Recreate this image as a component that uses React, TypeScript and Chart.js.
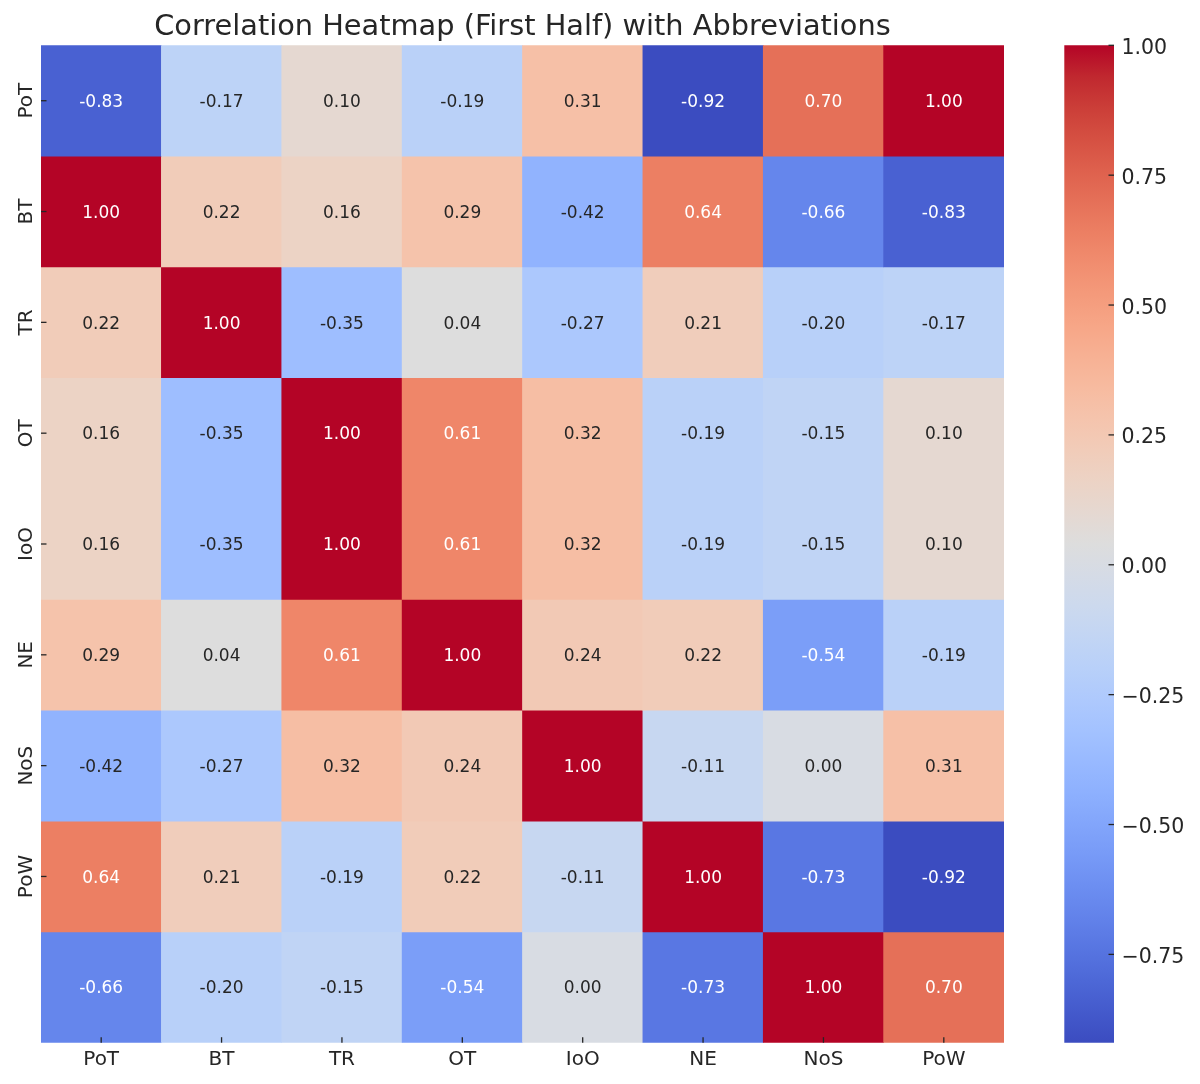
import React, { useEffect, useRef } from 'react';
import { Chart, registerables } from 'chart.js';

Chart.register(...registerables);

// ---------- data ----------
const titleText = 'Correlation Heatmap (First Half) with Abbreviations';
const colLabels = ['PoT', 'BT', 'TR', 'OT', 'IoO', 'NE', 'NoS', 'PoW'];
const rowLabels = ['PoT', 'BT', 'TR', 'OT', 'IoO', 'NE', 'NoS', 'PoW', ''];

const rowPoT = [-0.83, -0.17, 0.1, -0.19, 0.31, -0.92, 0.7, 1.0];
const rowBT = [1.0, 0.22, 0.16, 0.29, -0.42, 0.64, -0.66, -0.83];
const rowTR = [0.22, 1.0, -0.35, 0.04, -0.27, 0.21, -0.2, -0.17];
const rowOT = [0.16, -0.35, 1.0, 0.61, 0.32, -0.19, -0.15, 0.1];
const rowIoO = [0.16, -0.35, 1.0, 0.61, 0.32, -0.19, -0.15, 0.1];
const rowNE = [0.29, 0.04, 0.61, 1.0, 0.24, 0.22, -0.54, -0.19];
const rowNoS = [-0.42, -0.27, 0.32, 0.24, 1.0, -0.11, 0.0, 0.31];
const rowPoW = [0.64, 0.21, -0.19, 0.22, -0.11, 1.0, -0.73, -0.92];
const rowLast = [-0.66, -0.2, -0.15, -0.54, 0.0, -0.73, 1.0, 0.7];

const matrix = [rowPoT, rowBT, rowTR, rowOT, rowIoO, rowNE, rowNoS, rowPoW, rowLast];
const colorbarTicks = [-0.75, -0.5, -0.25, 0, 0.25, 0.5, 0.75, 1.0];

const vmin = Math.min(...matrix.flat());
const vmax = Math.max(...matrix.flat());

// ---------- colormap (coolwarm) ----------
const COOLWARM: number[][] = [
  [59, 76, 192], [68, 90, 204], [77, 104, 215], [87, 117, 225], [98, 130, 234],
  [108, 142, 241], [119, 154, 247], [130, 165, 251], [141, 176, 254], [152, 185, 255],
  [163, 194, 255], [174, 201, 253], [184, 208, 249], [194, 213, 244], [204, 217, 238],
  [213, 219, 230], [221, 221, 221], [229, 216, 209], [236, 211, 197], [241, 204, 185],
  [245, 196, 173], [247, 187, 160], [247, 177, 148], [247, 166, 135], [244, 154, 123],
  [241, 141, 111], [236, 127, 99], [229, 112, 88], [222, 96, 77], [213, 80, 66],
  [203, 62, 56], [192, 40, 47], [180, 4, 38],
];

function cmapRGB(t: number): number[] {
  const tt = Math.max(0, Math.min(1, t)) * (COOLWARM.length - 1);
  const i = Math.min(COOLWARM.length - 2, Math.floor(tt));
  const f = tt - i;
  const a = COOLWARM[i];
  const b = COOLWARM[i + 1];
  return [0, 1, 2].map((k) => a[k] + (b[k] - a[k]) * f);
}
const rgbStr = (c: number[]) => `rgb(${Math.round(c[0])},${Math.round(c[1])},${Math.round(c[2])})`;
const normOf = (v: number) => (v - vmin) / (vmax - vmin);
const colorFor = (v: number) => rgbStr(cmapRGB(normOf(v)));

function luminance(c: number[]): number {
  const lin = c.map((x) => {
    const s = x / 255;
    return s <= 0.03928 ? s / 12.92 : Math.pow((s + 0.055) / 1.055, 2.4);
  });
  return 0.2126 * lin[0] + 0.7152 * lin[1] + 0.0722 * lin[2];
}

const FONT = '"DejaVu Sans", "Liberation Sans", sans-serif';
const TEXT = '#262626';
const ANNOT_SIZE = 17;
const TICK_SIZE = 20;
const CB_SIZE = 20.5;
const textColorFor = (v: number) => (luminance(cmapRGB(normOf(v))) > 0.408 ? TEXT : '#ffffff');
const fmtMinus = (v: number) => (v < 0 ? '\u2212' : '') + Math.abs(v).toFixed(2);

// ---------- plugins ----------
const heatPlugin = {
  id: 'heatAnnot',
  afterDatasetsDraw(chart: any) {
    const ctx = chart.ctx;
    ctx.save();
    ctx.font = `${ANNOT_SIZE}px ${FONT}`;
    ctx.textAlign = 'center';
    ctx.textBaseline = 'alphabetic';
    matrix.forEach((row, i) => {
      const meta = chart.getDatasetMeta(i);
      meta.data.forEach((el: any, j: number) => {
        const p = el.getProps(['x', 'y', 'base'], true);
        const cy = (p.y + p.base) / 2;
        ctx.fillStyle = textColorFor(row[j]);
        ctx.fillText(row[j].toFixed(2), p.x, cy + 0.364 * ANNOT_SIZE);
      });
    });
    ctx.restore();
  },
  afterDraw(chart: any) {
    const { ctx, chartArea: a } = chart;
    const xs = chart.scales.x;
    const ys = chart.scales.y;
    ctx.save();
    ctx.strokeStyle = TEXT;
    ctx.lineWidth = 1.3;
    colLabels.forEach((_, j) => {
      const px = xs.getPixelForValue(j);
      ctx.beginPath();
      ctx.moveTo(px, a.bottom - 5.5);
      ctx.lineTo(px, a.bottom);
      ctx.stroke();
    });
    ctx.fillStyle = TEXT;
    ctx.font = `${TICK_SIZE}px ${FONT}`;
    ctx.textAlign = 'center';
    ctx.textBaseline = 'alphabetic';
    rowLabels.forEach((lab, i) => {
      if (!lab) return;
      const py = ys.getPixelForValue(i + 0.5);
      ctx.beginPath();
      ctx.moveTo(a.left, py);
      ctx.lineTo(a.left + 5.5, py);
      ctx.stroke();
      ctx.save();
      ctx.translate(a.left - 9, py);
      ctx.rotate(-Math.PI / 2);
      ctx.fillText(lab, 0, 0);
      ctx.restore();
    });
    ctx.restore();
  },
};

const cbPlugin = {
  id: 'cbTicks',
  afterDraw(chart: any) {
    const { ctx, chartArea: a } = chart;
    const ys = chart.scales.y;
    ctx.save();
    ctx.strokeStyle = TEXT;
    ctx.fillStyle = TEXT;
    ctx.lineWidth = 1.3;
    ctx.font = `${CB_SIZE}px ${FONT}`;
    ctx.textAlign = 'left';
    ctx.textBaseline = 'alphabetic';
    colorbarTicks.forEach((v) => {
      const py = ys.getPixelForValue(v);
      ctx.beginPath();
      ctx.moveTo(a.right - 5.5, py);
      ctx.lineTo(a.right, py);
      ctx.stroke();
      ctx.fillText(fmtMinus(v), a.right + 7.5, py + 0.364 * CB_SIZE + 1);
    });
    ctx.restore();
  },
};

export default function App() {
  const heatRef = useRef<HTMLCanvasElement | null>(null);
  const cbRef = useRef<HTMLCanvasElement | null>(null);

  useEffect(() => {
    if (!heatRef.current || !cbRef.current) return;

    const heat = new Chart(heatRef.current, {
      type: 'bar',
      data: {
        labels: colLabels,
        datasets: matrix.map((row, i) => ({
          label: rowLabels[i],
          data: row.map(() => [i, i + 1]),
          backgroundColor: row.map((v) => colorFor(v)),
          borderWidth: 0,
          barPercentage: 1,
          categoryPercentage: 1,
          grouped: false,
        })),
      } as any,
      options: {
        responsive: false,
        maintainAspectRatio: false,
        animation: false,
        events: [],
        layout: { padding: { left: 0, right: 26, top: 0, bottom: 0 } },
        plugins: {
          legend: { display: false },
          tooltip: { enabled: false },
          title: {
            display: true,
            text: titleText,
            color: TEXT,
            fullSize: false,
            font: { family: FONT, size: 28.8, weight: 'normal', lineHeight: 1.2 } as any,
            padding: { top: 10, bottom: 0.74 },
          },
        },
        scales: {
          x: {
            type: 'category',
            offset: true,
            grid: { display: false, drawTicks: false },
            border: { display: false },
            ticks: {
              font: { family: FONT, size: TICK_SIZE },
              color: TEXT,
              padding: 5,
              minRotation: 0,
              maxRotation: 0,
              autoSkip: false,
            },
            afterFit: (s: any) => {
              s.height = 41.3;
              s.paddingLeft = 0;
              s.paddingRight = 0;
            },
          },
          y: {
            type: 'linear',
            min: 0,
            max: matrix.length,
            reverse: true,
            grid: { display: false, drawTicks: false },
            border: { display: false },
            ticks: { display: false },
            afterFit: (s: any) => {
              s.width = 41;
              s.paddingTop = 0;
              s.paddingBottom = 0;
            },
          },
        },
      } as any,
      plugins: [heatPlugin],
    });

    const cb = new Chart(cbRef.current, {
      type: 'bar',
      data: {
        labels: [''],
        datasets: [
          {
            data: [[vmin, vmax]],
            backgroundColor: (c: any) => {
              const chart = c.chart;
              const ys = chart.scales && chart.scales.y;
              if (!ys || !chart.chartArea) return 'rgba(0,0,0,0)';
              const y0 = ys.getPixelForValue(vmin);
              const y1 = ys.getPixelForValue(vmax);
              const g = chart.ctx.createLinearGradient(0, y0, 0, y1);
              COOLWARM.forEach((col, k) => g.addColorStop(k / (COOLWARM.length - 1), rgbStr(col)));
              return g;
            },
            borderWidth: 0,
            barPercentage: 1,
            categoryPercentage: 1,
          },
        ],
      } as any,
      options: {
        responsive: false,
        maintainAspectRatio: false,
        animation: false,
        events: [],
        layout: { padding: { left: 24.3, top: 45.3, bottom: 41.3, right: 0 } },
        plugins: {
          legend: { display: false },
          tooltip: { enabled: false },
          title: { display: false },
        },
        scales: {
          x: { display: false },
          y: {
            type: 'linear',
            position: 'right',
            min: vmin,
            max: vmax,
            grid: { display: false, drawTicks: false },
            border: { display: false },
            afterBuildTicks: (s: any) => {
              s.ticks = colorbarTicks.map((v) => ({ value: v }));
            },
            ticks: { display: false },
            afterFit: (s: any) => {
              s.width = 86;
              s.paddingTop = 0;
              s.paddingBottom = 0;
            },
          },
        },
      } as any,
      plugins: [cbPlugin],
    });

    return () => {
      heat.destroy();
      cb.destroy();
    };
  }, []);

  return (
    <div style={{ position: 'absolute', left: 0, top: 0, width: 1200, height: 1084, background: '#ffffff' }}>
      <canvas
        ref={heatRef}
        width={1030}
        height={1084}
        style={{ position: 'absolute', left: 0, top: 0, width: 1030, height: 1084 }}
      />
      <canvas
        ref={cbRef}
        width={160}
        height={1084}
        style={{ position: 'absolute', left: 1040, top: 0, width: 160, height: 1084 }}
      />
    </div>
  );
}
